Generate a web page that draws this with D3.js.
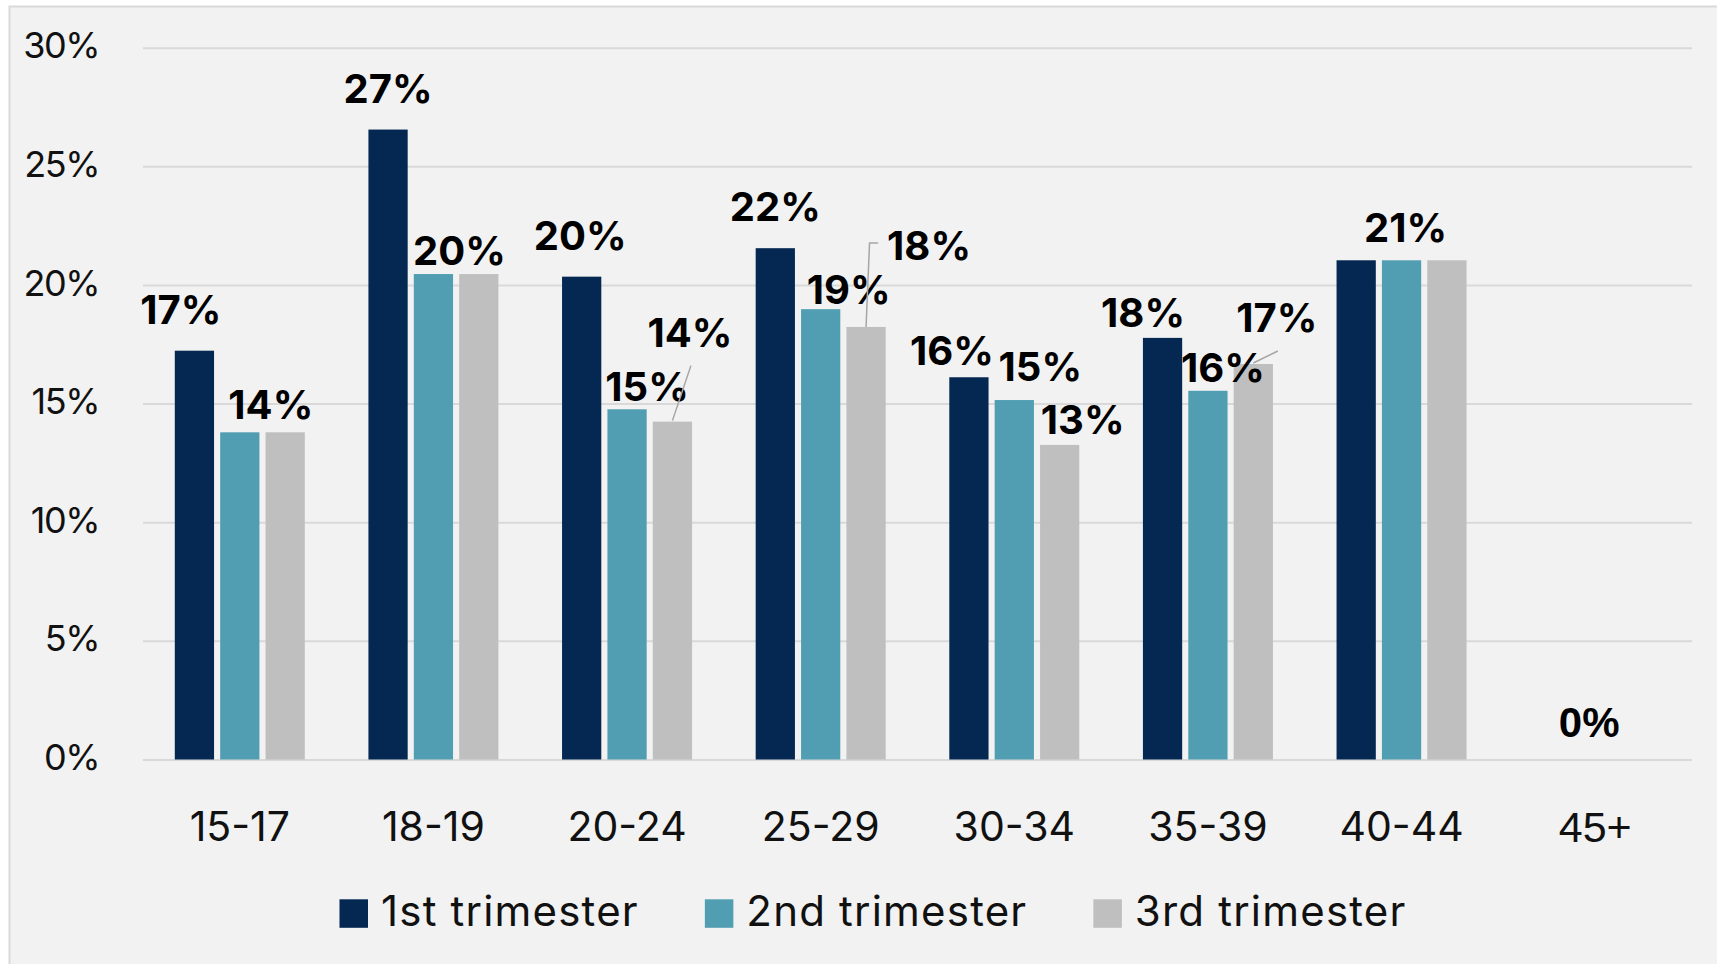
<!DOCTYPE html>
<html>
<head>
<meta charset="utf-8">
<script src="https://cdn.jsdelivr.net/npm/d3@7"></script>
<style>
  body { margin: 0; background: #ffffff; }
  svg { display: block; }
  text { font-family: Inter, "Noto Sans", sans-serif; fill: #111111; }
</style>
</head>
<body>
<div id="chart"></div>
<script>
// Dati (percentuale per fascia d'età e trimestre)
const categories = ["15-17", "18-19", "20-24", "25-29", "30-34", "35-39", "40-44", "45+"];
const seriesNames = ["1st trimester", "2nd trimester", "3rd trimester"];
const firstTrimester = [17.23, 26.55, 20.35, 21.55, 16.11, 17.77, 21.04, 0];
const secondTrimester = [13.79, 20.46, 14.76, 18.98, 15.15, 15.54, 21.04, 0];
const thirdTrimester = [13.79, 20.46, 14.24, 18.23, 13.26, 16.67, 21.04, 0];
const yTicks = [0, 5, 10, 15, 20, 25, 30];

const seriesValues = [firstTrimester, secondTrimester, thirdTrimester];
const colors = ["#042852", "#519eb3", "#bfbfbf"];

// Etichette spostate a mano come nell'originale (null = nascosta)
const labelLayout = {
    "15-17|1st trimester": { dx: -13.5, gap: 27 },
    "15-17|2nd trimester": { dx: 31, gap: 13 },
    "15-17|3rd trimester": null,
    "18-19|1st trimester": { dx: 0, gap: 27 },
    "18-19|2nd trimester": { dx: 26, gap: 9 },
    "18-19|3rd trimester": null,
    "20-24|1st trimester": { dx: -1.5, gap: 27 },
    "20-24|2nd trimester": { dx: 20, gap: 8.5 },
    "20-24|3rd trimester": { dx: 17.5, gap: 75, leader: "drop" },
    "25-29|1st trimester": { dx: 0, gap: 27.5 },
    "25-29|2nd trimester": { dx: 28, gap: 5 },
    "25-29|3rd trimester": { dx: 63, gap: 67, leader: "elbow" },
    "30-34|1st trimester": { dx: -17, gap: 12 },
    "30-34|2nd trimester": { dx: 26, gap: 19 },
    "30-34|3rd trimester": { dx: 23, gap: 11 },
    "35-39|1st trimester": { dx: -19.5, gap: 10.5 },
    "35-39|2nd trimester": { dx: 15, gap: 9 },
    "35-39|3rd trimester": { dx: 23.5, gap: 32, leader: "drop" },
    "40-44|1st trimester": null,
    "40-44|2nd trimester": { dx: 4, gap: 18.5 },
    "40-44|3rd trimester": null,
    "45+|1st trimester": null,
    "45+|2nd trimester": { dx: -6, gap: 23 },
    "45+|3rd trimester": null
};

const width = 1717, height = 964;
const plot = { left: 143, right: 1692, top: 47.7, bottom: 759.5 };

const svg = d3.select("#chart")
    .append("svg")
    .attr("width", width)
    .attr("height", height);

// Sfondo del grafico
svg.append("rect")
    .attr("x", 9.5)
    .attr("y", 6.5)
    .attr("width", 1730)
    .attr("height", 980)
    .style("fill", "#f2f2f2")
    .style("stroke", "#d9d9d9")
    .style("stroke-width", 2);

// Scale
const x0 = d3.scaleBand()
    .domain(categories)
    .range([plot.left, plot.right]);

const x1 = d3.scaleBand()
    .domain(seriesNames)
    .range([31.8, 161.8])
    .paddingInner(0.135);

const y = d3.scaleLinear()
    .domain([0, 30])
    .range([plot.bottom, plot.top]);

// Asse y con griglia
const yAxis = svg.append("g")
    .attr("transform", `translate(${plot.left},0)`)
    .call(d3.axisLeft(y)
        .tickValues(yTicks)
        .tickSize(-(plot.right - plot.left))
        .tickPadding(44)
        .tickFormat(d => d + "%"));
yAxis.select(".domain").remove();
yAxis.selectAll("line")
    .style("stroke", "#d9d9d9")
    .style("stroke-width", 2);
yAxis.selectAll("text")
    .style("font-size", "36px")
    .style("letter-spacing", "-1.5px")
    .style("fill", "#111111")
    .attr("dy", "0.28em");

// Asse x con le fasce d'età
const xAxis = svg.append("g")
    .attr("transform", `translate(0,${plot.bottom})`)
    .call(d3.axisBottom(x0).tickSize(0).tickPadding(52));
xAxis.select(".domain").remove();
xAxis.selectAll("text")
    .style("fill", "#111111")
    .style("font-family", d => d === "45+" ? "'Liberation Sans', Arial, sans-serif" : null)
    .style("font-size", d => d === "45+" ? "43px" : "41px");

// Barre
const rows = categories.map((c, i) => ({
    category: c,
    values: seriesNames.map((s, j) => ({ category: c, series: s, value: seriesValues[j][i], color: colors[j] }))
}));

const groups = svg.append("g")
    .selectAll("g")
    .data(rows)
    .join("g")
    .attr("transform", d => `translate(${x0(d.category)},0)`);

groups.selectAll("rect")
    .data(d => d.values)
    .join("rect")
    .attr("x", d => x1(d.series))
    .attr("y", d => y(d.value))
    .attr("width", x1.bandwidth())
    .attr("height", d => y(0) - y(d.value))
    .style("fill", d => d.color);

// Etichette dei valori
const fmt = d3.format(".0f");
const labels = svg.append("g");
rows.forEach(row => {
    row.values.forEach(d => {
        const lay = labelLayout[d.category + "|" + d.series];
        if (!lay) return;
        const cx = x0(d.category) + x1(d.series) + x1.bandwidth() / 2;
        const top = y(d.value);
        const lx = cx + lay.dx;
        const ly = top - lay.gap;
        const t = labels.append("text")
            .attr("x", lx)
            .attr("y", ly)
            .attr("text-anchor", "middle")
            .style("font-size", "40px")
            .style("font-weight", 700)
            .style("fill", "#000000")
            .text(fmt(d.value) + "%");
        if (d.category === "45+") {
            t.style("font-family", "'Liberation Sans', Arial, sans-serif").style("font-size", "42px");
        }
        if (lay.leader === "drop") {
            labels.append("line")
                .attr("x1", lx + 1).attr("y1", ly + 19)
                .attr("x2", cx).attr("y2", top - 1)
                .style("stroke", "#a6a6a6")
                .style("stroke-width", 1.5);
        }
        if (lay.leader === "elbow") {
            const w = t.node().getComputedTextLength();
            const sx = lx - w / 2 - 9;
            labels.append("polyline")
                .attr("points", [[sx, ly - 17], [cx + 3.5, ly - 17], [cx, top]].map(p => p.join(",")).join(" "))
                .style("fill", "none")
                .style("stroke", "#a6a6a6")
                .style("stroke-width", 1.5);
        }
    });
});

// Legenda
const legend = svg.append("g");
let lx = 0;
seriesNames.forEach((s, i) => {
    const item = legend.append("g").attr("transform", `translate(${lx},0)`);
    item.append("rect")
        .attr("x", 0)
        .attr("y", 899.3)
        .attr("width", 28.5)
        .attr("height", 28.5)
        .style("fill", colors[i]);
    const t = item.append("text")
        .attr("x", 41.5)
        .attr("y", 925.5)
        .style("font-size", "42px")
        .style("letter-spacing", "1.2px")
        .style("fill", "#111111")
        .text(s);
    lx += 41.5 + t.node().getComputedTextLength() + 66;
});
const legendWidth = lx - 66;
legend.attr("transform", `translate(${873 - legendWidth / 2},0)`);
</script>
</body>
</html>
